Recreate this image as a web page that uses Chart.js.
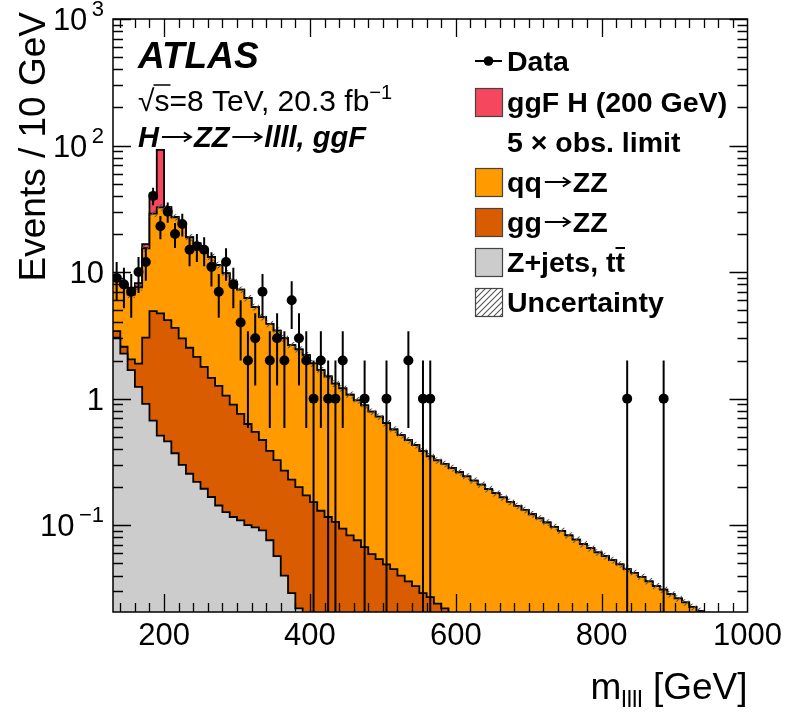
<!DOCTYPE html>
<html>
<head>
<meta charset="utf-8">
<title>H→ZZ→llll ggF, m4l</title>
<script src="https://cdn.jsdelivr.net/npm/chart.js@4.4.1/dist/chart.umd.min.js"></script>
<style>
  html, body { margin: 0; padding: 0; background: #fff; }
  canvas { display: block; }
</style>
</head>
<body>
<canvas id="massChart" width="788" height="712"></canvas>
<script>
// 10 GeV bins, lower edges from 130 to 990
const binLow = 130, binWidth = 10, nBins = 87;
const massEdges = Array.from({ length: nBins }, (_, i) => binLow + binWidth * i);

// per-process expectations (events / 10 GeV)
const zJets = [
  3.03, 2.27, 1.68, 1.24, 0.91, 0.67, 0.51, 0.46, 0.37, 0.30,
  0.255, 0.22, 0.194, 0.167, 0.143, 0.127, 0.116, 0.109, 0.100, 0.096,
  0.091, 0.076, 0.057, 0.040, 0.029, 0.022, 0.015, 0.010, 0.007, 0.005,
  0.003, 0.002, 0, 0, 0, 0, 0, 0, 0, 0,
  0, 0, 0, 0, 0, 0, 0, 0, 0, 0,
  0, 0, 0, 0, 0, 0, 0, 0, 0, 0,
  0, 0, 0, 0, 0, 0, 0, 0, 0, 0,
  0, 0, 0, 0, 0, 0, 0, 0, 0, 0,
  0, 0, 0, 0, 0, 0, 0
];
const ggZZ = [
  0.38, 0.30, 0.36, 0.65, 2.12, 4.24, 4.20, 3.71, 3.26, 2.69,
  2.27, 1.92, 1.59, 1.29, 1.12, 0.93, 0.78, 0.65, 0.53, 0.45,
  0.38, 0.31, 0.27, 0.23, 0.20, 0.178, 0.157, 0.142, 0.123, 0.111,
  0.103, 0.092, 0.083, 0.076, 0.067, 0.059, 0.054, 0.049, 0.045, 0.040,
  0.036, 0.033, 0.029, 0.027, 0.024, 0.022, 0.019, 0.017, 0.015, 0.013,
  0.012, 0.011, 0.010, 0.009, 0.008, 0.007, 0.006, 0.005, 0.004, 0.004,
  0.003, 0.003, 0.002, 0.002, 0.002, 0.001, 0.001, 0.001, 0.001, 0.001,
  0, 0, 0, 0, 0, 0, 0, 0, 0, 0,
  0, 0, 0, 0, 0, 0, 0
];
const qqZZ = [
  5.8, 5.2, 4.6, 5.7, 12.4, 24.1, 27.8, 27.8, 23.4, 21.0,
  16.3, 14.7, 13.2, 11.7, 10.1, 8.7, 7.5, 6.5, 5.6, 4.75,
  3.93, 3.51, 3.12, 2.73, 2.42, 2.25, 2.03, 1.75, 1.55, 1.38,
  1.21, 1.11, 0.99, 0.894, 0.818, 0.731, 0.666, 0.591, 0.525, 0.475,
  0.434, 0.397, 0.356, 0.323, 0.301, 0.283, 0.264, 0.245, 0.228, 0.212,
  0.197, 0.182, 0.169, 0.157, 0.145, 0.135, 0.126, 0.117, 0.109, 0.101,
  0.094, 0.087, 0.081, 0.075, 0.069, 0.065, 0.060, 0.056, 0.052, 0.048,
  0.045, 0.042, 0.039, 0.036, 0.033, 0.031, 0.0285, 0.0264, 0.0245, 0.0226,
  0.021, 0.0195, 0.018, 0.0167, 0.0155, 0.0144, 0.0133
];
// ggF H (200 GeV), 5 x observed limit
const ggfH = [
  0, 0.2, 0.9, 0.6, 1.2, 9, 60, 0.8, 0.3, 0.15,
  0.1, 0.08, 0.05, 0.04, 0.03, 0.03, 0.02, 0.02, 0.01, 0.01,
  0.01, 0, 0, 0, 0, 0, 0, 0, 0, 0,
  0, 0, 0, 0, 0, 0, 0, 0, 0, 0,
  0, 0, 0, 0, 0, 0, 0, 0, 0, 0,
  0, 0, 0, 0, 0, 0, 0, 0, 0, 0,
  0, 0, 0, 0, 0, 0, 0, 0, 0, 0,
  0, 0, 0, 0, 0, 0, 0, 0, 0, 0,
  0, 0, 0, 0, 0, 0, 0
];
const dataCounts = [
  9, 8, 7, 10, 12, 40, 23, 30, 20, 24,
  15, 16, 15, 11, 7, 12, 8, 4, 2, 3,
  7, 2, 3, 2, 6, 3, 2, 1, 2, 1,
  1, 2, 0, 0, 1, 0, 0, 1, 0, 0,
  2, 0, 1, 1, 0, 0, 0, 0, 0, 0,
  0, 0, 0, 0, 0, 0, 0, 0, 0, 0,
  0, 0, 0, 0, 0, 0, 0, 0, 0, 0,
  1, 0, 0, 0, 0, 1, 0, 0, 0, 0,
  0, 0, 0, 0, 0, 0, 0
];
const bkgUncFrac = 0.06;

const xTickValues = [200, 400, 600, 800, 1000];
const yTickValues = [0.1, 1, 10, 100, 1000];
const yTickBase = ['10', '1', '10', '10', '10'];
const yTickExp = ['\u22121', '', '', '2', '3'];

const colZ = '#CCCCCC', colGG = '#DA5C00', colQQ = '#FF9A00', colH = '#F5475E';
const FONT = "'Liberation Sans', Arial, Helvetica, sans-serif";

// stacked sums, bottom to top
const stackZ = zJets.slice();
const stackGG = stackZ.map((v, i) => v + ggZZ[i]);
const stackQQ = stackGG.map((v, i) => v + qqZZ[i]);
const stackH = stackQQ.map((v, i) => v + ggfH[i]);
const bandLo = stackQQ.map(v => v * (1 - bkgUncFrac));
const bandHi = stackQQ.map(v => v * (1 + bkgUncFrac));

function histPoints(vals) {
  const pts = vals.map((v, i) => ({ x: massEdges[i], y: v > 0 ? v : null }));
  const last = vals[nBins - 1];
  pts.push({ x: massEdges[nBins - 1] + binWidth, y: last > 0 ? last : null });
  return pts;
}

const dataPoints = [];
dataCounts.forEach((n, i) => { if (n > 0) dataPoints.push({ x: massEdges[i] + binWidth / 2, y: n }); });

function makeHatch() {
  const p = document.createElement('canvas');
  p.width = 6; p.height = 6;
  const g = p.getContext('2d');
  g.strokeStyle = '#555'; g.lineWidth = 1.1;
  g.beginPath();
  g.moveTo(0, 6); g.lineTo(6, 0);
  g.moveTo(-1, 1); g.lineTo(1, -1);
  g.moveTo(5, 7); g.lineTo(7, 5);
  g.stroke();
  return g.createPattern(p, 'repeat');
}

function hist(label, vals, color, order) {
  return {
    label, data: histPoints(vals), order,
    stepped: 'before', fill: 'start', backgroundColor: color,
    borderColor: '#000', borderWidth: 1.8, pointRadius: 0, clip: 0
  };
}

// text made of runs: plain, sub/superscript, or a drawn arrow
function drawRuns(ctx, parts, x, y, align) {
  let w = 0;
  parts.forEach(p => {
    if (p.arrow) { p.w = p.arrow; } else { ctx.font = p.font; p.w = ctx.measureText(p.text).width; }
    w += p.w;
  });
  let cx = align === 'right' ? x - w : x;
  parts.forEach(p => {
    p.x = cx;
    if (p.arrow) {
      const ya = y - p.lift, x0 = cx + 3, x1 = cx + p.w - 3;
      ctx.save();
      ctx.strokeStyle = '#000'; ctx.lineWidth = p.lw || 1.8; ctx.lineJoin = 'miter';
      ctx.beginPath();
      ctx.moveTo(x0, ya); ctx.lineTo(x1, ya);
      ctx.moveTo(x1 - 7, ya - 4.5); ctx.lineTo(x1, ya); ctx.lineTo(x1 - 7, ya + 4.5);
      ctx.stroke();
      ctx.restore();
    } else {
      ctx.font = p.font;
      ctx.fillText(p.text, cx, y + (p.dy || 0));
    }
    cx += p.w;
  });
  return parts;
}

const errorBars = {
  id: 'errorBars',
  afterDatasetsDraw(chart) {
    const { ctx, chartArea: a, scales: { x, y } } = chart;
    const meta = chart.getDatasetMeta(0);
    ctx.save();
    ctx.beginPath(); ctx.rect(a.left, a.top, a.width, a.height); ctx.clip();
    ctx.strokeStyle = '#000'; ctx.lineWidth = 2;
    meta.data.forEach((pt, k) => {
      const raw = dataPoints[k];
      const err = Math.sqrt(raw.y);
      const yHi = y.getPixelForValue(raw.y + err);
      const yLo = raw.y - err > 0 ? y.getPixelForValue(raw.y - err) : a.bottom;
      ctx.beginPath();
      ctx.moveTo(pt.x, yHi); ctx.lineTo(pt.x, yLo);
      ctx.moveTo(x.getPixelForValue(raw.x - binWidth / 2), pt.y);
      ctx.lineTo(x.getPixelForValue(raw.x + binWidth / 2), pt.y);
      ctx.stroke();
    });
    ctx.restore();
  }
};

const frameAndText = {
  id: 'frameAndText',
  afterDraw(chart) {
    const { ctx, chartArea: a, scales: { x, y } } = chart;
    ctx.save();
    ctx.strokeStyle = '#000';
    ctx.lineWidth = 1.5;
    ctx.strokeRect(a.left, a.top, a.width, a.height);

    // inward ticks, mirrored on top and right
    ctx.lineWidth = 1.3;
    ctx.beginPath();
    for (let v = 140; v < 1000; v += 20) {
      const px = Math.round(x.getPixelForValue(v)) + 0.5;
      const len = v % 200 === 0 ? 18 : 9;
      ctx.moveTo(px, a.bottom); ctx.lineTo(px, a.bottom - len);
      ctx.moveTo(px, a.top); ctx.lineTo(px, a.top + len);
    }
    for (let d = 0.01; d <= 1000; d *= 10) {
      for (let k = 1; k <= 9; k++) {
        const v = k * d;
        if (v < y.min || v > y.max * 1.001) continue;
        const py = Math.round(y.getPixelForValue(v)) + 0.5;
        const len = k === 1 ? 18 : 10;
        ctx.moveTo(a.left, py); ctx.lineTo(a.left + len, py);
        ctx.moveTo(a.right, py); ctx.lineTo(a.right - len, py);
      }
    }
    ctx.stroke();

    ctx.fillStyle = '#000';
    ctx.textBaseline = 'alphabetic';
    ctx.textAlign = 'left';

    // y tick labels with exponents
    yTickValues.forEach((v, i) => {
      const py = y.getPixelForValue(v);
      drawRuns(ctx, [
        { text: yTickBase[i], font: `31px ${FONT}` },
        { text: yTickExp[i] ? '\u2009' + yTickExp[i] : '', font: `22px ${FONT}`, dy: -14 }
      ], 104, py + 11, 'right');
    });

    // axis titles
    drawRuns(ctx, [
      { text: 'm', font: `37px ${FONT}` },
      { text: 'llll', font: `24px ${FONT}`, dy: 8 },
      { text: ' [GeV]', font: `37px ${FONT}` }
    ], a.right, 699, 'right');
    ctx.save();
    ctx.translate(45, 12);
    ctx.rotate(-Math.PI / 2);
    ctx.textAlign = 'right';
    ctx.font = `37px ${FONT}`;
    ctx.fillText('Events / 10 GeV', 0, 0);
    ctx.restore();

    // ATLAS label block
    ctx.font = `italic bold 37px ${FONT}`;
    ctx.fillText('ATLAS', 138, 68);
    const sq = drawRuns(ctx, [
      { text: '\u221A', font: `30px ${FONT}` },
      { text: 's', font: `30px ${FONT}` },
      { text: '=8 TeV, 20.3 fb', font: `30px ${FONT}` },
      { text: '\u22121', font: `20px ${FONT}`, dy: -12 }
    ], 138, 111);
    ctx.lineWidth = 1.5;
    ctx.beginPath();
    ctx.moveTo(sq[1].x - 1, 85); ctx.lineTo(sq[1].x + sq[1].w + 1, 85);
    ctx.stroke();
    const bi = `italic bold 29px ${FONT}`;
    drawRuns(ctx, [
      { text: 'H', font: bi },
      { arrow: 35, lift: 10, lw: 2 },
      { text: 'ZZ', font: bi },
      { arrow: 35, lift: 10, lw: 2 },
      { text: 'llll, ggF', font: bi }
    ], 138, 147);

    // legend
    const bx = 475, bw = 27, bh = 28, tx = 507;
    const lf = `bold 28.5px ${FONT}`;
    const rows = [
      { kind: 'data', parts: [{ text: 'Data', font: lf }], base: 71 },
      { kind: 'box', color: colH, parts: [{ text: 'ggF H (200 GeV)', font: lf }], base: 112 },
      { kind: 'none', parts: [{ text: '5 \u00D7 obs. limit', font: lf }], base: 152 },
      { kind: 'box', color: colQQ, parts: [{ text: 'qq', font: lf }, { arrow: 31, lift: 10, lw: 2 }, { text: 'ZZ', font: lf }], base: 192 },
      { kind: 'box', color: colGG, parts: [{ text: 'gg', font: lf }, { arrow: 31, lift: 10, lw: 2 }, { text: 'ZZ', font: lf }], base: 232 },
      { kind: 'box', color: colZ, parts: [{ text: 'Z+jets, tt', font: lf }], base: 272, bar: true },
      { kind: 'hatch', parts: [{ text: 'Uncertainty', font: lf }], base: 312 }
    ];
    rows.forEach(r => {
      const cy = r.base - 10;
      if (r.kind === 'data') {
        ctx.strokeStyle = '#000'; ctx.lineWidth = 2;
        ctx.beginPath(); ctx.moveTo(bx, cy); ctx.lineTo(bx + bw, cy); ctx.stroke();
        ctx.beginPath(); ctx.arc(bx + bw / 2, cy, 4.8, 0, Math.PI * 2); ctx.fill();
      } else if (r.kind !== 'none') {
        ctx.fillStyle = r.kind === 'hatch' ? '#fff' : r.color;
        ctx.fillRect(bx, cy - bh / 2, bw, bh);
        if (r.kind === 'hatch') { ctx.fillStyle = makeHatch(); ctx.fillRect(bx, cy - bh / 2, bw, bh); }
        ctx.strokeStyle = '#444'; ctx.lineWidth = 1.2;
        ctx.strokeRect(bx + 0.5, cy - bh / 2 + 0.5, bw, bh);
      }
      ctx.fillStyle = '#000';
      const done = drawRuns(ctx, r.parts, tx, r.base);
      if (r.bar) {
        ctx.font = lf;
        const tw = ctx.measureText('t').width;
        const end = done[0].x + done[0].w;
        ctx.strokeStyle = '#000'; ctx.lineWidth = 2;
        ctx.beginPath();
        ctx.moveTo(end - tw, r.base - 24); ctx.lineTo(end, r.base - 24);
        ctx.stroke();
      }
    });
    ctx.restore();
  }
};

const ctx = document.getElementById('massChart').getContext('2d');
new Chart(ctx, {
  type: 'line',
  data: {
    datasets: [
      { label: 'Data', data: dataPoints, showLine: false, order: 0,
        pointRadius: 5, pointBackgroundColor: '#000', pointBorderColor: '#000', pointBorderWidth: 0 },
      hist('Z+jets, tt', stackZ, colZ, 1),
      hist('gg\u2192ZZ', stackGG, colGG, 2),
      { label: 'unc-lo', data: histPoints(bandLo), order: 3, stepped: 'before', fill: false,
        borderWidth: 0, borderColor: 'rgba(0,0,0,0)', pointRadius: 0, clip: 0 },
      { label: 'Uncertainty', data: histPoints(bandHi), order: 3, stepped: 'before', fill: '-1',
        backgroundColor: makeHatch(), borderWidth: 0, borderColor: 'rgba(0,0,0,0)', pointRadius: 0, clip: 0 },
      hist('qq\u2192ZZ', stackQQ, colQQ, 4),
      hist('ggF H (200 GeV)', stackH, colH, 5)
    ]
  },
  options: {
    responsive: false,
    animation: false,
    devicePixelRatio: 1,
    layout: { padding: { top: 19, right: 36, bottom: 0, left: 0 } },
    elements: { line: { borderJoinStyle: 'miter', tension: 0 } },
    plugins: { legend: { display: false }, tooltip: { enabled: false } },
    scales: {
      x: {
        type: 'linear', min: 130, max: 1000,
        afterFit: s => { s.height = 100; },
        afterBuildTicks: s => { s.ticks = xTickValues.map(v => ({ value: v })); },
        grid: { display: false, drawTicks: false },
        border: { display: false },
        ticks: { color: '#000', font: { family: FONT, size: 31 }, padding: 6,
          maxRotation: 0, autoSkip: false, callback: v => String(v) }
      },
      y: {
        type: 'logarithmic', min: 0.0206, max: 1000,
        afterFit: s => { s.width = 113; },
        afterBuildTicks: s => { s.ticks = yTickValues.map(v => ({ value: v })); },
        grid: { display: false, drawTicks: false },
        border: { display: false },
        ticks: { display: false }
      }
    }
  },
  plugins: [errorBars, frameAndText]
});
</script>
</body>
</html>
